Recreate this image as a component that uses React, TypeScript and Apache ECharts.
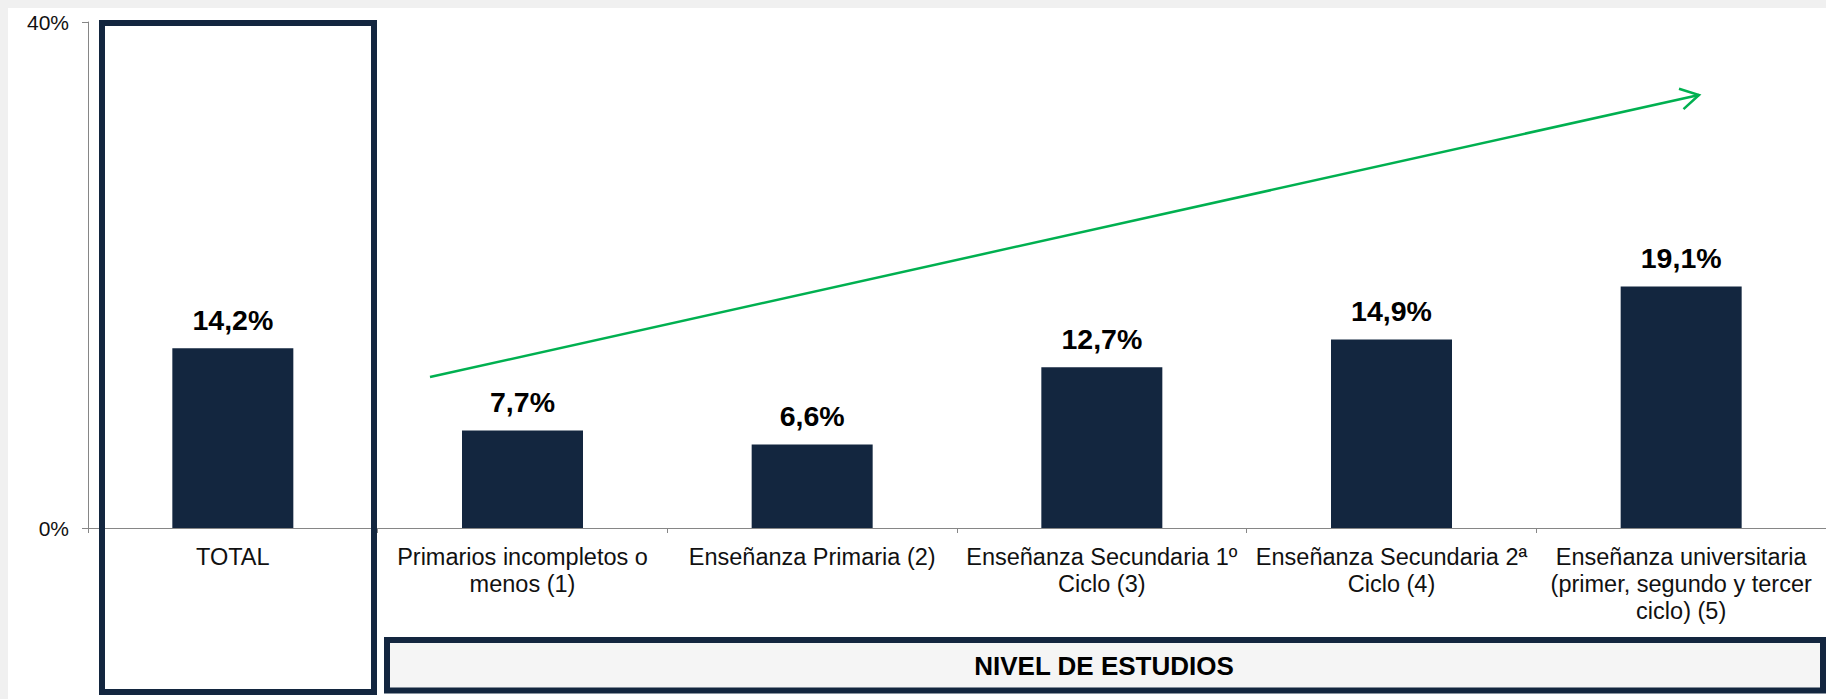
import React, { useEffect, useRef } from "react";
import * as echarts from "echarts";

const categories = [
  "TOTAL",
  "Primarios incompletos o\nmenos (1)",
  "Enseñanza Primaria (2)",
  "Enseñanza Secundaria 1º\nCiclo (3)",
  "Enseñanza Secundaria 2ª\nCiclo (4)",
  "Enseñanza universitaria\n(primer, segundo y tercer\nciclo) (5)",
];
const values = [14.2, 7.7, 6.6, 12.7, 14.9, 19.1];
const yTicks = { min: 0, max: 40, interval: 40 };
const groupTitle = "NIVEL DE ESTUDIOS";

const NAVY = "#13263f";
const GREEN = "#00b050";
const FONT = "'Liberation Sans', Arial, sans-serif";

export default function App() {
  const ref = useRef<HTMLDivElement>(null);
  useEffect(() => {
    document.body.style.margin = "0";
    document.body.style.overflow = "hidden";
    document.body.style.background = "#f0f0f0";
    const chart = echarts.init(ref.current!, null, { renderer: "svg" });
    chart.setOption({
      animation: false,
      backgroundColor: "#f0f0f0",
      textStyle: { fontFamily: FONT },
      grid: { left: 88, top: 22, width: 1740, height: 506, containLabel: false },
      xAxis: {
        type: "category",
        data: categories,
        axisLine: { lineStyle: { color: "#868686", width: 1 } },
        axisTick: { show: true, length: 5, lineStyle: { color: "#868686" } },
        axisLabel: {
          interval: 0,
          fontSize: 23.5,
          lineHeight: 27,
          color: "#111",
          margin: 15,
          fontFamily: FONT,
        },
      },
      yAxis: {
        type: "value",
        min: yTicks.min,
        max: yTicks.max,
        interval: yTicks.interval,
        axisLine: { show: true, lineStyle: { color: "#868686", width: 1 } },
        axisTick: { show: true, length: 6, lineStyle: { color: "#868686" } },
        splitLine: { show: false },
        axisLabel: {
          formatter: "{value}%",
          fontSize: 21,
          color: "#111",
          margin: 19,
          fontFamily: FONT,
        },
      },
      series: [
        {
          type: "bar",
          data: values,
          barWidth: 121,
          itemStyle: { color: NAVY },
          label: {
            show: true,
            position: "top",
            distance: 14,
            fontSize: 28.5,
            fontWeight: "bold",
            color: "#000",
            fontFamily: FONT,
            formatter: (p: any) => p.value.toFixed(1).replace(".", ",") + "%",
          },
        },
      ],
      graphic: [
        {
          type: "rect",
          z: -10,
          silent: true,
          shape: { x: 8, y: 8, width: 1830, height: 700 },
          style: { fill: "#ffffff" },
        },
        {
          type: "rect",
          z: 100,
          shape: { x: 102, y: 23, width: 272, height: 669 },
          style: { fill: "transparent", stroke: NAVY, lineWidth: 6 },
        },
        {
          type: "rect",
          z: 100,
          shape: { x: 387, y: 640, width: 1436, height: 50.5 },
          style: { fill: "#f5f5f5", stroke: NAVY, lineWidth: 6 },
        },
        {
          type: "text",
          z: 101,
          x: 1104,
          y: 666,
          style: {
            text: groupTitle,
            fontSize: 26,
            fontWeight: "bold",
            fontFamily: FONT,
            fill: "#000",
            align: "center",
            verticalAlign: "middle",
          },
        },
        {
          type: "line",
          z: 100,
          shape: { x1: 430, y1: 377, x2: 1699, y2: 95 },
          style: { stroke: GREEN, lineWidth: 2.5 },
        },
        {
          type: "polyline",
          z: 100,
          shape: { points: [[1679, 88.7], [1699, 95], [1683.5, 109.2]] },
          style: { stroke: GREEN, lineWidth: 2.5, fill: "none" },
        },
      ],
    });
    return () => chart.dispose();
  }, []);
  return <div ref={ref} style={{ width: 1826, height: 699 }} />;
}
